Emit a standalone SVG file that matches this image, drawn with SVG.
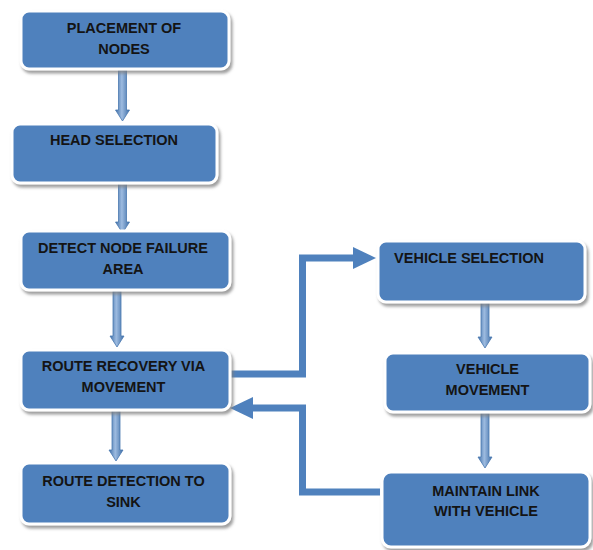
<svg xmlns="http://www.w3.org/2000/svg" width="593" height="550" viewBox="0 0 593 550">
  <defs>
    <filter id="shadow" x="-10%" y="-15%" width="125%" height="140%">
      <feDropShadow dx="2" dy="3" stdDeviation="1.6" flood-color="#7f7f7f" flood-opacity="0.75"/>
    </filter>
    <linearGradient id="shaft" x1="0" y1="0" x2="1" y2="0">
      <stop offset="0" stop-color="#3f6fa8"/>
      <stop offset="0.45" stop-color="#9dbbe0"/>
      <stop offset="1" stop-color="#3f6fa8"/>
    </linearGradient>
    <!-- down arrow centred on x=0, 0 = tail, pointing down; length set per use via scaling of shaft -->
  </defs>
  <style>
    .box { fill: #4f81bd; stroke: #ffffff; stroke-width: 3; filter: url(#shadow); }
    .label { font-family: "Liberation Sans", Arial, sans-serif; font-weight: bold; font-size: 14.5px; fill: #141414; text-anchor: middle; }
    .down { fill: url(#shaft); stroke: #4a78b0; stroke-width: 0.8; }
    .link { fill: none; stroke: #4f81bd; stroke-width: 7; stroke-linejoin: miter; }
    .head { fill: #4f81bd; }
  </style>
  <rect width="593" height="550" fill="#ffffff"/>

  <g id="connectors">
    <!-- vertical flow arrows -->
    <polygon class="down" points="118.5,70 126.5,70 126.5,110 129.5,110 122.5,121 115.5,110 118.5,110"/>
    <polygon class="down" points="118.5,183 126.5,183 126.5,222 129.5,222 122.5,233 115.5,222 118.5,222"/>
    <polygon class="down" points="113,291 121,291 121,336 124,336 117,347 110,336 113,336"/>
    <polygon class="down" points="112,410 120,410 120,450 123,450 116,461 109,450 112,450"/>
    <polygon class="down" points="481,302 489,302 489,337 492,337 485,348 478,337 481,337"/>
    <polygon class="down" points="481,413 489,413 489,457 492,457 485,468 478,457 481,457"/>
    <!-- route recovery to vehicle selection -->
    <path class="link" d="M231 374 H302.5 V258 H356"/>
    <polygon class="head" points="353,247 376,258 353,269"/>
    <!-- maintain link back to route recovery -->
    <path class="link" d="M380 492 H302.5 V408 H250"/>
    <polygon class="head" points="253,397 230,408 253,419"/>
  </g>

  <g id="placement">
    <rect class="box" x="21" y="11" width="208" height="58" rx="8"/>
    <text class="label" x="124" y="33">PLACEMENT OF</text>
    <text class="label" x="124" y="54">NODES</text>
  </g>
  <g id="head-selection">
    <rect class="box" x="12" y="124" width="205" height="59" rx="8"/>
    <text class="label" x="114" y="145">HEAD SELECTION</text>
  </g>
  <g id="detect-failure">
    <rect class="box" x="21" y="231" width="209" height="59" rx="8"/>
    <text class="label" x="123" y="253">DETECT NODE FAILURE</text>
    <text class="label" x="123" y="274">AREA</text>
  </g>
  <g id="route-recovery">
    <rect class="box" x="21" y="350" width="209" height="60" rx="8"/>
    <text class="label" x="123.5" y="371">ROUTE RECOVERY VIA</text>
    <text class="label" x="123.5" y="392">MOVEMENT</text>
  </g>
  <g id="route-detection">
    <rect class="box" x="21" y="463" width="209" height="61" rx="8"/>
    <text class="label" x="123.5" y="486">ROUTE DETECTION TO</text>
    <text class="label" x="123.5" y="507">SINK</text>
  </g>
  <g id="vehicle-selection">
    <rect class="box" x="378" y="241" width="207" height="61" rx="8"/>
    <text class="label" x="469" y="263">VEHICLE SELECTION</text>
  </g>
  <g id="vehicle-movement">
    <rect class="box" x="385" y="353" width="205" height="59" rx="8"/>
    <text class="label" x="487.5" y="374">VEHICLE</text>
    <text class="label" x="487.5" y="395">MOVEMENT</text>
  </g>
  <g id="maintain-link">
    <rect class="box" x="382" y="472" width="208" height="75" rx="9"/>
    <text class="label" x="486" y="496">MAINTAIN LINK</text>
    <text class="label" x="486" y="516">WITH VEHICLE</text>
  </g>
</svg>
